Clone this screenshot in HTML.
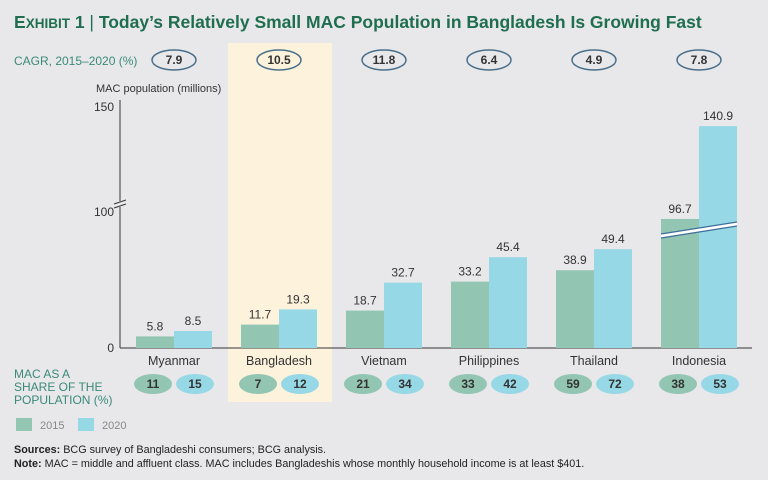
<!DOCTYPE html>
<html><head><meta charset="utf-8"><style>
body{margin:0;background:#e8e8ea;}
svg{display:block;font-family:"Liberation Sans",sans-serif;}
</style></head><body>
<svg width="768" height="480" viewBox="0 0 768 480">
<rect width="768" height="480" fill="#e8e8ea"/>
<text x="14" y="28" font-size="17.5" font-weight="bold" fill="#1f6e4f"><tspan>E</tspan><tspan font-size="13.5">XHIBIT</tspan> 1 <tspan font-weight="normal">|</tspan> Today’s Relatively Small MAC Population in Bangladesh Is Growing Fast</text>
<rect x="228" y="43" width="104" height="359" fill="#fdf3dc"/>
<text x="14" y="65" font-size="12" fill="#3a8a78">CAGR, 2015–2020 (%)</text>
<text x="96" y="92" font-size="11" fill="#333">MAC population (millions)</text>
<g id="yaxis"></g>
<g id="bars"></g>
<text x="14" y="378" font-size="12" fill="#3a8a78"><tspan x="14">MAC AS A</tspan><tspan x="14" dy="13">SHARE OF THE</tspan><tspan x="14" dy="13">POPULATION (%)</tspan></text>
<rect x="16" y="418" width="16" height="13" fill="#93c5b3"/>
<text x="40" y="429" font-size="11" fill="#888">2015</text>
<rect x="78" y="418" width="16" height="13" fill="#97d8e6"/>
<text x="102" y="429" font-size="11" fill="#888">2020</text>
<text x="14" y="453" font-size="10.8" fill="#222"><tspan font-weight="bold">Sources:</tspan> BCG survey of Bangladeshi consumers; BCG analysis.</text>
<text x="14" y="467" font-size="10.8" fill="#222"><tspan font-weight="bold">Note:</tspan> MAC = middle and affluent class. MAC includes Bangladeshis whose monthly household income is at least $401.</text>
</svg>
<script>
const categories=["Myanmar","Bangladesh","Vietnam","Philippines","Thailand","Indonesia"];
const values2015=[5.8,11.7,18.7,33.2,38.9,96.7];
const values2020=[8.5,19.3,32.7,45.4,49.4,140.9];
const cagr=["7.9","10.5","11.8","6.4","4.9","7.8"];
const share2015=[11,7,21,33,59,38];
const share2020=[15,12,34,42,72,53];
const yTicks=[0,100,150];
const NS="http://www.w3.org/2000/svg";
function y(v){return v<=60?348-2*v:212-(v-100)*2.1;}
function cx(i){return 174+i*105;}
function mk(t,a,p){const e=document.createElementNS(NS,t);for(const k in a)e.setAttribute(k,a[k]);(p||document.getElementById('bars')).appendChild(e);return e;}
const ya=document.getElementById('yaxis');
let l=mk('line',{x1:120,y1:100,x2:120,y2:348,stroke:'#333','stroke-width':1},ya);

l=mk('line',{x1:120,y1:348,x2:752,y2:348,stroke:'#333','stroke-width':1},ya);

mk('rect',{x:114,y:201,width:12,height:6,fill:'#e8e8ea'},ya);
mk('line',{x1:114,y1:204,x2:126,y2:200,stroke:'#333'},ya);
mk('line',{x1:114,y1:208,x2:126,y2:204,stroke:'#333'},ya);
yTicks.forEach(v=>{const t=mk('text',{x:114,y:y(v)+4,'font-size':12,fill:'#333','text-anchor':'end'},ya);t.textContent=v;
});
const bw=38;
categories.forEach((c,i)=>{
  const x=cx(i);
  [[values2015[i],x-bw,'#93c5b3','2015'],[values2020[i],x,'#97d8e6','2020']].forEach(([v,bx,col,yr])=>{
    const r=mk('rect',{x:bx,y:y(v),width:bw,height:348-y(v),fill:col});
    
    const t=mk('text',{x:bx+bw/2,y:y(v)-6,'font-size':12,fill:'#333','text-anchor':'middle'});t.textContent=v.toFixed(1);
    
  });
  const t=mk('text',{x:x,y:365,'font-size':12.5,fill:'#333','text-anchor':'middle'});t.textContent=c;
  
  const o=mk('ellipse',{cx:x,cy:60,rx:22,ry:10,fill:'none',stroke:'#4a6f8a','stroke-width':1.5});
  
  const ot=mk('text',{x:x,y:64,'font-size':12,'font-weight':'bold',fill:'#333','text-anchor':'middle'});ot.textContent=cagr[i];
  
  [[share2015[i],x-21,'#93c5b3','2015'],[share2020[i],x+21,'#97d8e6','2020']].forEach(([v,ex,col,yr])=>{
    const e=mk('ellipse',{cx:ex,cy:384,rx:19,ry:10,fill:col});
    
    const st=mk('text',{x:ex,y:388,'font-size':12,'font-weight':'bold',fill:'#333','text-anchor':'middle'});st.textContent=v;
    
  });
});
const bx=cx(5);
mk('polygon',{points:`${bx-bw},234 ${bx+bw},222 ${bx+bw},226 ${bx-bw},238`,fill:'#fff'});
mk('line',{x1:bx-bw,y1:234,x2:bx+bw,y2:222,stroke:'#3d6f9a','stroke-width':1.2});
mk('line',{x1:bx-bw,y1:238,x2:bx+bw,y2:226,stroke:'#3d6f9a','stroke-width':1.2});
</script>
</body></html>
